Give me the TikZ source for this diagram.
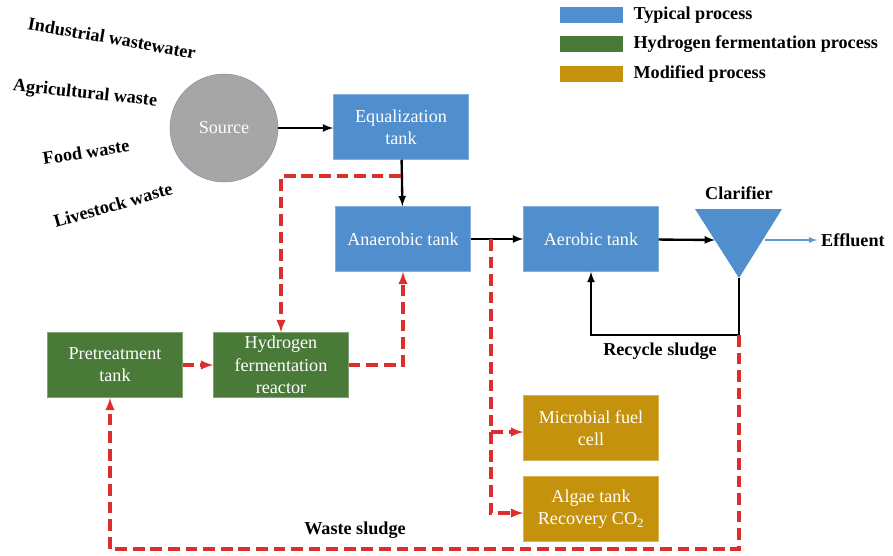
\documentclass[tikz,border=0pt]{standalone}
\usepackage{fontspec}
\setmainfont{Liberation Serif}
\usetikzlibrary{arrows,positioning}
\definecolor{typblue}{RGB}{80,142,205}
\definecolor{hydgreen}{RGB}{74,122,56}
\definecolor{modgold}{RGB}{196,146,12}
\definecolor{srcgray}{RGB}{166,166,166}
\definecolor{srcedge}{RGB}{118,138,168}
\definecolor{sludgered}{RGB}{222,45,45}
\definecolor{efflblue}{RGB}{95,152,212}
\tikzset{
  tank/.style={rectangle,minimum width=40.5mm,minimum height=19.5mm,inner sep=0pt,
    align=center,text=white,font=\fontsize{15.5}{19}\selectfont},
  typical/.style={tank,fill=typblue,draw=typblue!70!white,line width=0.4pt},
  hydro/.style={tank,fill=hydgreen,draw=hydgreen!70!white,line width=0.4pt},
  modified/.style={tank,fill=modgold,draw=modgold!70!white,line width=0.4pt},
  legkey/.style={rectangle,minimum width=18.9mm,minimum height=4.8mm,inner sep=0pt},
  lbl/.style={font=\bfseries\fontsize{15.5}{17}\selectfont},
  slant/.style={lbl,inner sep=0.5pt,rotate=#1},
  flow/.style={->,>=latex,line width=2pt,black},
  efflow/.style={->,>=latex,line width=1.3pt,efflblue},
  sludge/.style={->,>=latex,line width=2.6pt,sludgered,dash pattern=on 10pt off 5pt},
}
\begin{document}
\begin{tikzpicture}[x=0.3mm,y=-0.3mm]
\useasboundingbox (0,0) rectangle (893,555);
% legend
\node (keytyp) [legkey,fill=typblue] at (591,15) {};
\node (keyhyd) [legkey,fill=hydgreen] at (591,44) {};
\node (keymod) [legkey,fill=modgold] at (591,74) {};
\node (legtyp) [lbl,right=2mm of keytyp] {Typical process};
\node (leghyd) [lbl,right=2mm of keyhyd] {Hydrogen fermentation process};
\node (legmod) [lbl,right=2mm of keymod] {Modified process};
% waste streams
\node (indus) [slant=-10] at (112,38) {Industrial wastewater};
\node (agri) [slant=-6] at (85,94) {Agricultural waste};
\node (food) [slant=9] at (86,152) {Food waste};
\node (live) [slant=16] at (113,205) {Livestock waste};
% process units
\node (source) [circle,minimum size=32.4mm,inner sep=0pt,fill=srcgray,draw=srcedge,
  text=white,font=\fontsize{15.5}{19}\selectfont] at (224,128) {Source};
\node (eq) [typical] at (401,127) {Equalization\\tank};
\node (anaer) [typical] at (403,239) {Anaerobic tank};
\node (aer) [typical] at (591,239) {Aerobic tank};
\node (pre) [hydro] at (115,365) {Pretreatment\\tank};
\node (hyd) [hydro] at (281,365) {Hydrogen\\fermentation\\reactor};
\node (mfc) [modified] at (591,428) {Microbial fuel\\cell};
\node (algae) [modified] at (591,509) {Algae tank\\Recovery CO\textsubscript{2}};
% clarifier
\fill[typblue] (695,209) -- (782,209) -- (739,278) -- cycle;
\coordinate (clarin) at (715,240);
\coordinate (clarout) at (765,240);
\coordinate (clartip) at (739,278);
\coordinate (recyc) at (739,335);
\coordinate (sump) at (739,549);
\node (clarlbl) [lbl] at (739,193) {Clarifier};
\node (effl) [lbl,anchor=west] at (817,240) {Effluent};
\node (reclbl) [lbl] at (660,351) {Recycle sludge};
\node (wastelbl) [lbl] at (355,530) {Waste sludge};
% main line
\draw[flow] (source) -- (source.east -| eq.west);
\draw[flow] (eq) -- (anaer);
\draw[flow] (anaer) -- (aer);
\draw[flow] (aer) -- (clarin);
\draw[efflow] (clarout) -- (effl.west);
\draw[flow] (clartip) -- (recyc) -| (aer.south);
% hydrogen fermentation and modified routes
\coordinate (split1) at (401,176);
\coordinate (split2) at (491,239);
\draw[sludge] (split1) -| (hyd.north);
\draw[sludge] (pre) -- (hyd);
\draw[sludge] (hyd.east) -| (anaer.south);
\draw[sludge] (split2) |- ([yshift=-1.2mm]mfc.west);
\draw[sludge] (split2) |- ([yshift=-1.2mm]algae.west);
\draw[sludge] (recyc) -- (sump) -| ([xshift=-1.5mm]pre.south);
\end{tikzpicture}
\end{document}
